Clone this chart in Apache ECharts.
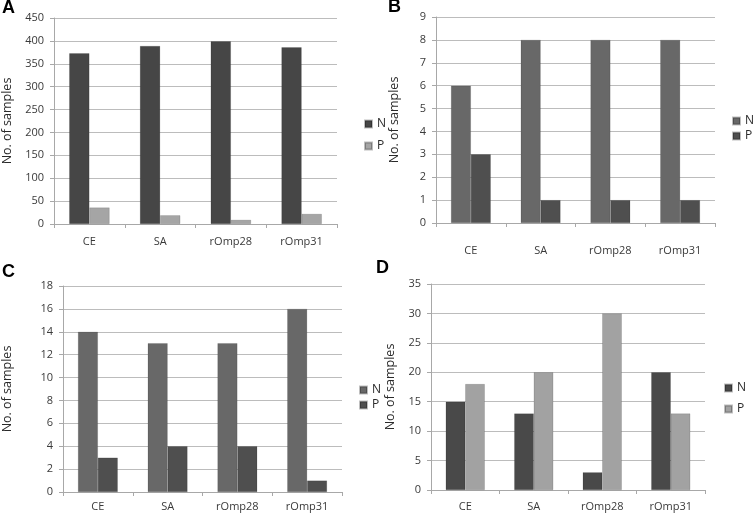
<!DOCTYPE html>
<html>
<head>
<meta charset="utf-8">
<script src="https://cdn.jsdelivr.net/npm/echarts@6/dist/echarts.min.js"></script>
<style>
html,body{margin:0;padding:0;background:#fff;}
#main{width:754px;height:518px;}
</style>
</head>
<body>
<div id="main"></div>
<script>
var categories = ['CE', 'SA', 'rOmp28', 'rOmp31'];
var seriesNames = ['N', 'P'];

var panelLabels = ['A', 'B', 'C', 'D'];

var aN = [373, 389, 399, 386];
var aP = [36, 19, 9, 22];

var bN = [6, 8, 8, 8];
var bP = [3, 1, 1, 1];

var cN = [14, 13, 13, 16];
var cP = [3, 4, 4, 1];

var dN = [15, 13, 3, 20];
var dP = [18, 20, 30, 13];

var yMax = [450, 9, 18, 35];
var yInterval = [50, 1, 2, 5];
var yAxisName = 'No. of samples';

var panelData = [[aN, aP], [bN, bP], [cN, cP], [dN, dP]];

// layout / styles
var FONT = 'Open Sans';
var grids = [
  {left: 49, top: 18, width: 288, height: 206},
  {left: 436, top: 17, width: 279, height: 206},
  {left: 59, top: 286, width: 283, height: 206},
  {left: 431, top: 284, width: 274, height: 206}
];
var colorSets = [
  ['#464646', '#a5a5a5'],
  ['#686868', '#4f4f4f'],
  ['#686868', '#4f4f4f'],
  ['#494949', '#a2a2a2']
];
var nameGaps = [40, 35, 49, 34];
var xMargins = [12, 22, 9, 11];
var legendPos = [
  {left: 364, top: 118, gap: 10},
  {left: 732, top: 115, gap: 3},
  {left: 359, top: 384, gap: 3},
  {left: 724, top: 382, gap: 9}
];
var letterPos = [
  {left: 2, top: -1},
  {left: 388, top: -2},
  {left: 2, top: 263},
  {left: 376, top: 259}
];

var option = {
  animation: false,
  backgroundColor: '#ffffff',
  textStyle: {fontFamily: FONT},
  title: [],
  legend: [],
  grid: [],
  xAxis: [],
  yAxis: [],
  series: []
};

for (var i = 0; i < 4; i++) {
  option.grid.push(Object.assign({containLabel: false}, grids[i]));
  option.title.push({
    text: panelLabels[i],
    left: letterPos[i].left,
    top: letterPos[i].top,
    padding: 0,
    textStyle: {fontFamily: 'Liberation Sans', fontWeight: 'bold', fontSize: 18, color: '#000'}
  });
  option.xAxis.push({
    type: 'category',
    gridIndex: i,
    data: categories,
    boundaryGap: true,
    axisLine: {show: true, lineStyle: {color: '#a8a8a8', width: 1}},
    axisTick: {show: true, length: 4, lineStyle: {color: '#a8a8a8'}},
    axisLabel: {color: '#3a3a3a', fontSize: 11, margin: xMargins[i], fontFamily: FONT},
    splitLine: {show: false}
  });
  option.yAxis.push({
    type: 'value',
    gridIndex: i,
    min: 0,
    max: yMax[i],
    interval: yInterval[i],
    name: yAxisName,
    nameLocation: 'middle',
    nameGap: nameGaps[i],
    nameRotate: 90,
    nameTextStyle: {color: '#2a2a2a', fontSize: 12.5, fontFamily: FONT},
    axisLine: {show: true, lineStyle: {color: '#a8a8a8', width: 1}},
    axisTick: {show: true, length: 4, lineStyle: {color: '#a8a8a8'}},
    axisLabel: {color: '#3a3a3a', fontSize: 11, margin: 10, fontFamily: FONT},
    splitLine: {show: true, lineStyle: {color: '#bcbcbc', width: 1}}
  });
  var names = [];
  for (var s = 0; s < 2; s++) {
    var nm = seriesNames[s] + '_' + i;
    names.push(nm);
    option.series.push({
      name: nm,
      type: 'bar',
      xAxisIndex: i,
      yAxisIndex: i,
      data: panelData[i][s],
      barWidth: '28.5%',
      barGap: '0%',
      itemStyle: {color: colorSets[i][s], borderColor: 'rgba(0,0,0,0.25)', borderWidth: 0.5}
    });
  }
  option.legend.push({
    data: names,
    orient: 'vertical',
    left: legendPos[i].left,
    top: legendPos[i].top,
    itemGap: legendPos[i].gap,
    itemWidth: 7,
    itemHeight: 7,
    icon: 'rect',
    padding: 0,
    selectedMode: false,
    formatter: function (n) { return n.split('_')[0]; },
    textStyle: {color: '#2a2a2a', fontSize: 12, lineHeight: 12, fontFamily: FONT}
  });
}

var chart = echarts.init(document.getElementById('main'), null, {renderer: 'canvas'});
chart.setOption(option);
</script>
</body>
</html>
